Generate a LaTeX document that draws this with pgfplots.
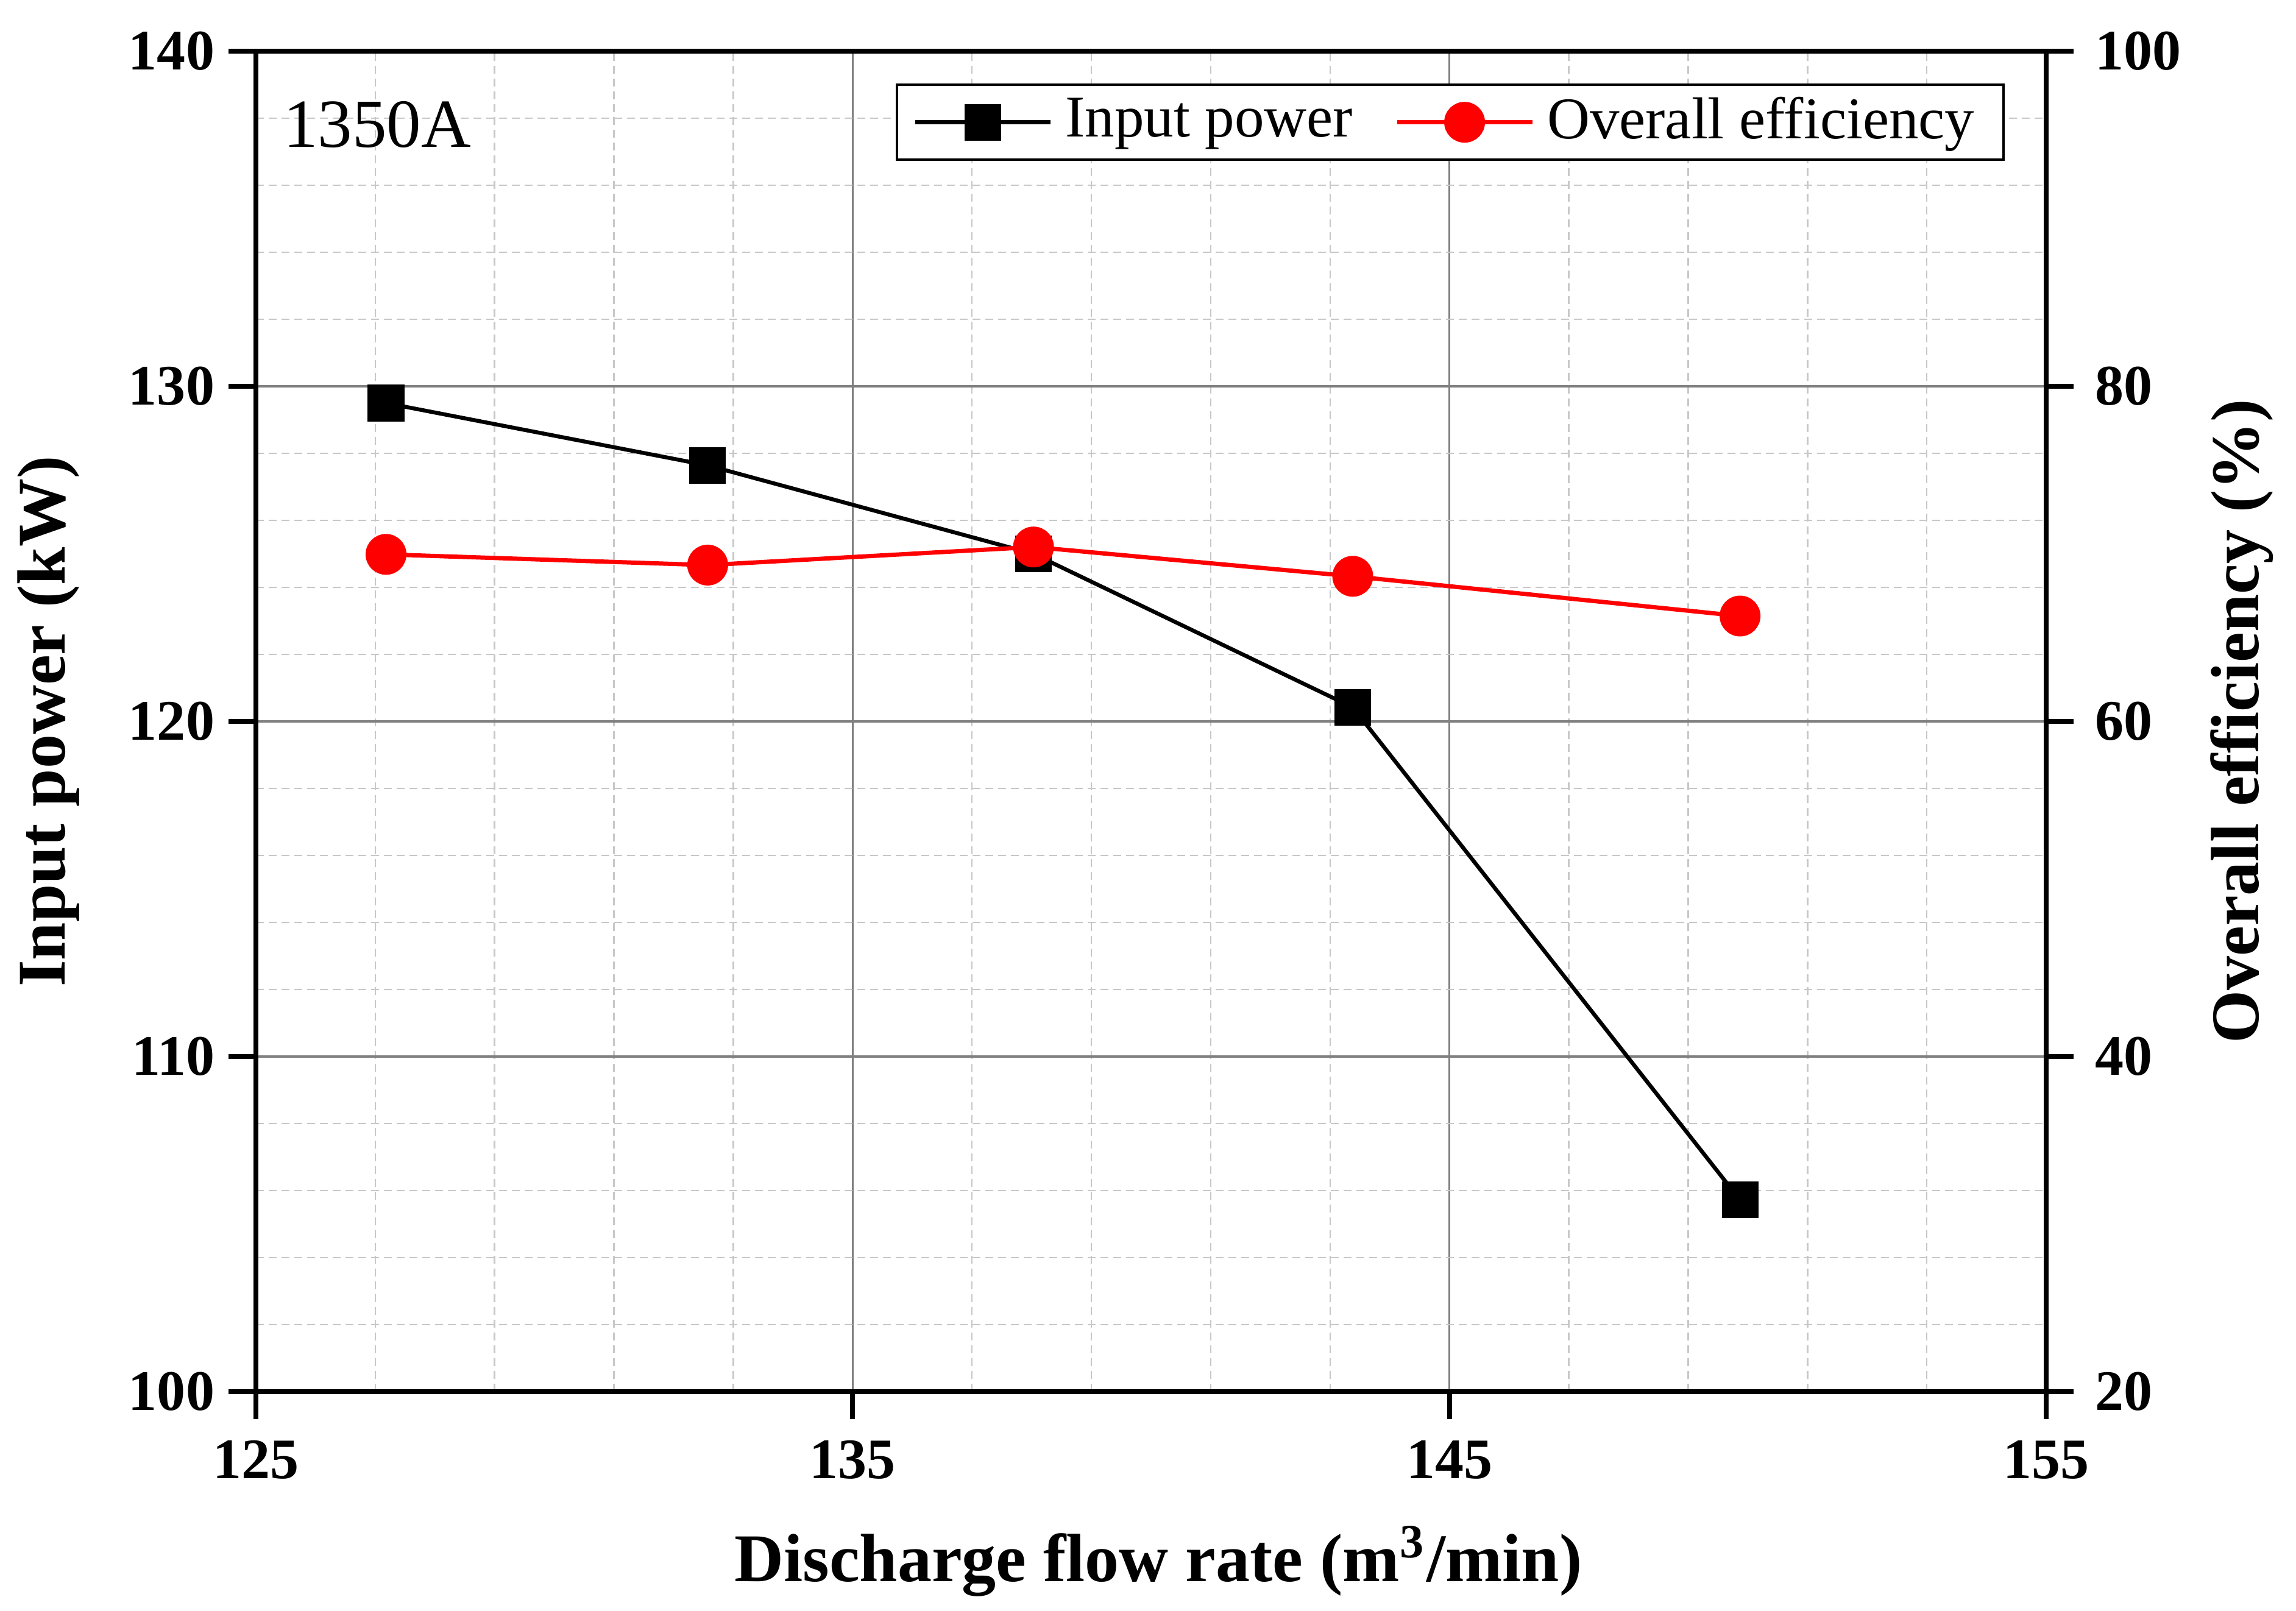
\documentclass[border=0pt]{standalone}
\usepackage{pgfplots}
\pgfplotsset{compat=1.18}
\usepackage{fontspec}
\setmainfont{Liberation Serif}

\definecolor{majgrid}{RGB}{128,128,128}
\definecolor{mingrid}{RGB}{200,200,200}

\pgfplotsset{
  common/.style={
    scale only axis, width=293.8pt, height=220pt,
    xmin=125, xmax=155,
    tick align=outside,
    major tick length=4.5pt,
    minor tick length=0pt,
    major tick style={black, line width=0.8pt},
    axis line style={line width=0.8pt},
    tick label style={font=\fontsize{9.4}{11}\selectfont\bfseries},
    /pgf/number format/assume math mode=true,
    label style={font=\fontsize{11.2}{13}\selectfont\bfseries},
  }
}

\begin{document}
\begin{tikzpicture}
  \begin{axis}[common, name=ax,
    ymin=100, ymax=140,
    ytick={100,110,...,140}, xtick={125,135,145,155},
    minor x tick num=4, minor y tick num=4,
    xtick pos=left, ytick pos=left,
    yticklabel style={inner xsep=2.1pt},
    grid=both,
    major grid style={majgrid, line width=0.35pt},
    minor grid style={mingrid, line width=0.25pt, dash pattern=on 1.3pt off 0.8pt},
    xlabel={Discharge flow rate (m\textsuperscript{3}/min)},
    ylabel={Input power (kW)},
    xlabel style={at={(axis description cs:0.5,-0.1418)}, anchor=base, xshift=1.2pt},
    ylabel style={at={(axis description cs:-0.0864,0.5)}, anchor=south},
  ]
    \addplot[black, line width=0.65pt, mark=square*, mark size=2.68pt]
      coordinates {(127.18,129.5) (132.57,127.64) (138.03,125.0) (143.38,120.42) (149.87,105.72)};
    \node[anchor=north west, inner sep=0pt, xshift=4.3pt, yshift=-8pt,
      font=\fontsize{11.3}{13}\selectfont] at (rel axis cs:0,1) {1350A};
  \end{axis}

  \begin{axis}[common,
    hide x axis,
    ytick pos=right, yticklabel pos=right,
    ymin=20, ymax=100, ytick={20,40,...,100},
    ylabel={Overall efficiency (\%)},
    ylabel style={at={(axis description cs:1.0799,0.5)}, anchor=north},
    legend columns=2,
    legend cell align=left,
    legend style={at={(0.9769,0.9759)}, anchor=north east,
      draw=black, line width=0.4pt, fill=white,
      inner xsep=2.7pt, inner ysep=1pt,
      font=\fontsize{9.7}{11}\selectfont,
      nodes={inner xsep=2.1pt, inner ysep=1pt},
      /tikz/every even column/.append style={column sep=4.8pt}},
    legend image code/.code={\draw[mark repeat=2,mark phase=2]
      plot coordinates {(0pt,0pt) (11.1pt,0pt) (22.2pt,0pt)};},
  ]
    \addlegendimage{black, line width=0.65pt, mark=square*, mark size=2.68pt}
    \addlegendentry{Input power}
    \addplot[color=red, line width=0.7pt, mark=*, mark size=3pt,
      mark options={fill=red, draw=red}]
      coordinates {(127.18,69.97) (132.57,69.33) (138.03,70.41) (143.38,68.66) (149.87,66.29)};
    \addlegendentry{Overall efficiency}
  \end{axis}

  \pgfresetboundingbox
  \path[use as bounding box] ([shift={(-42pt,-36pt)}]ax.south west)
    rectangle ([shift={(41pt,8.4pt)}]ax.north east);
\end{tikzpicture}
\end{document}
